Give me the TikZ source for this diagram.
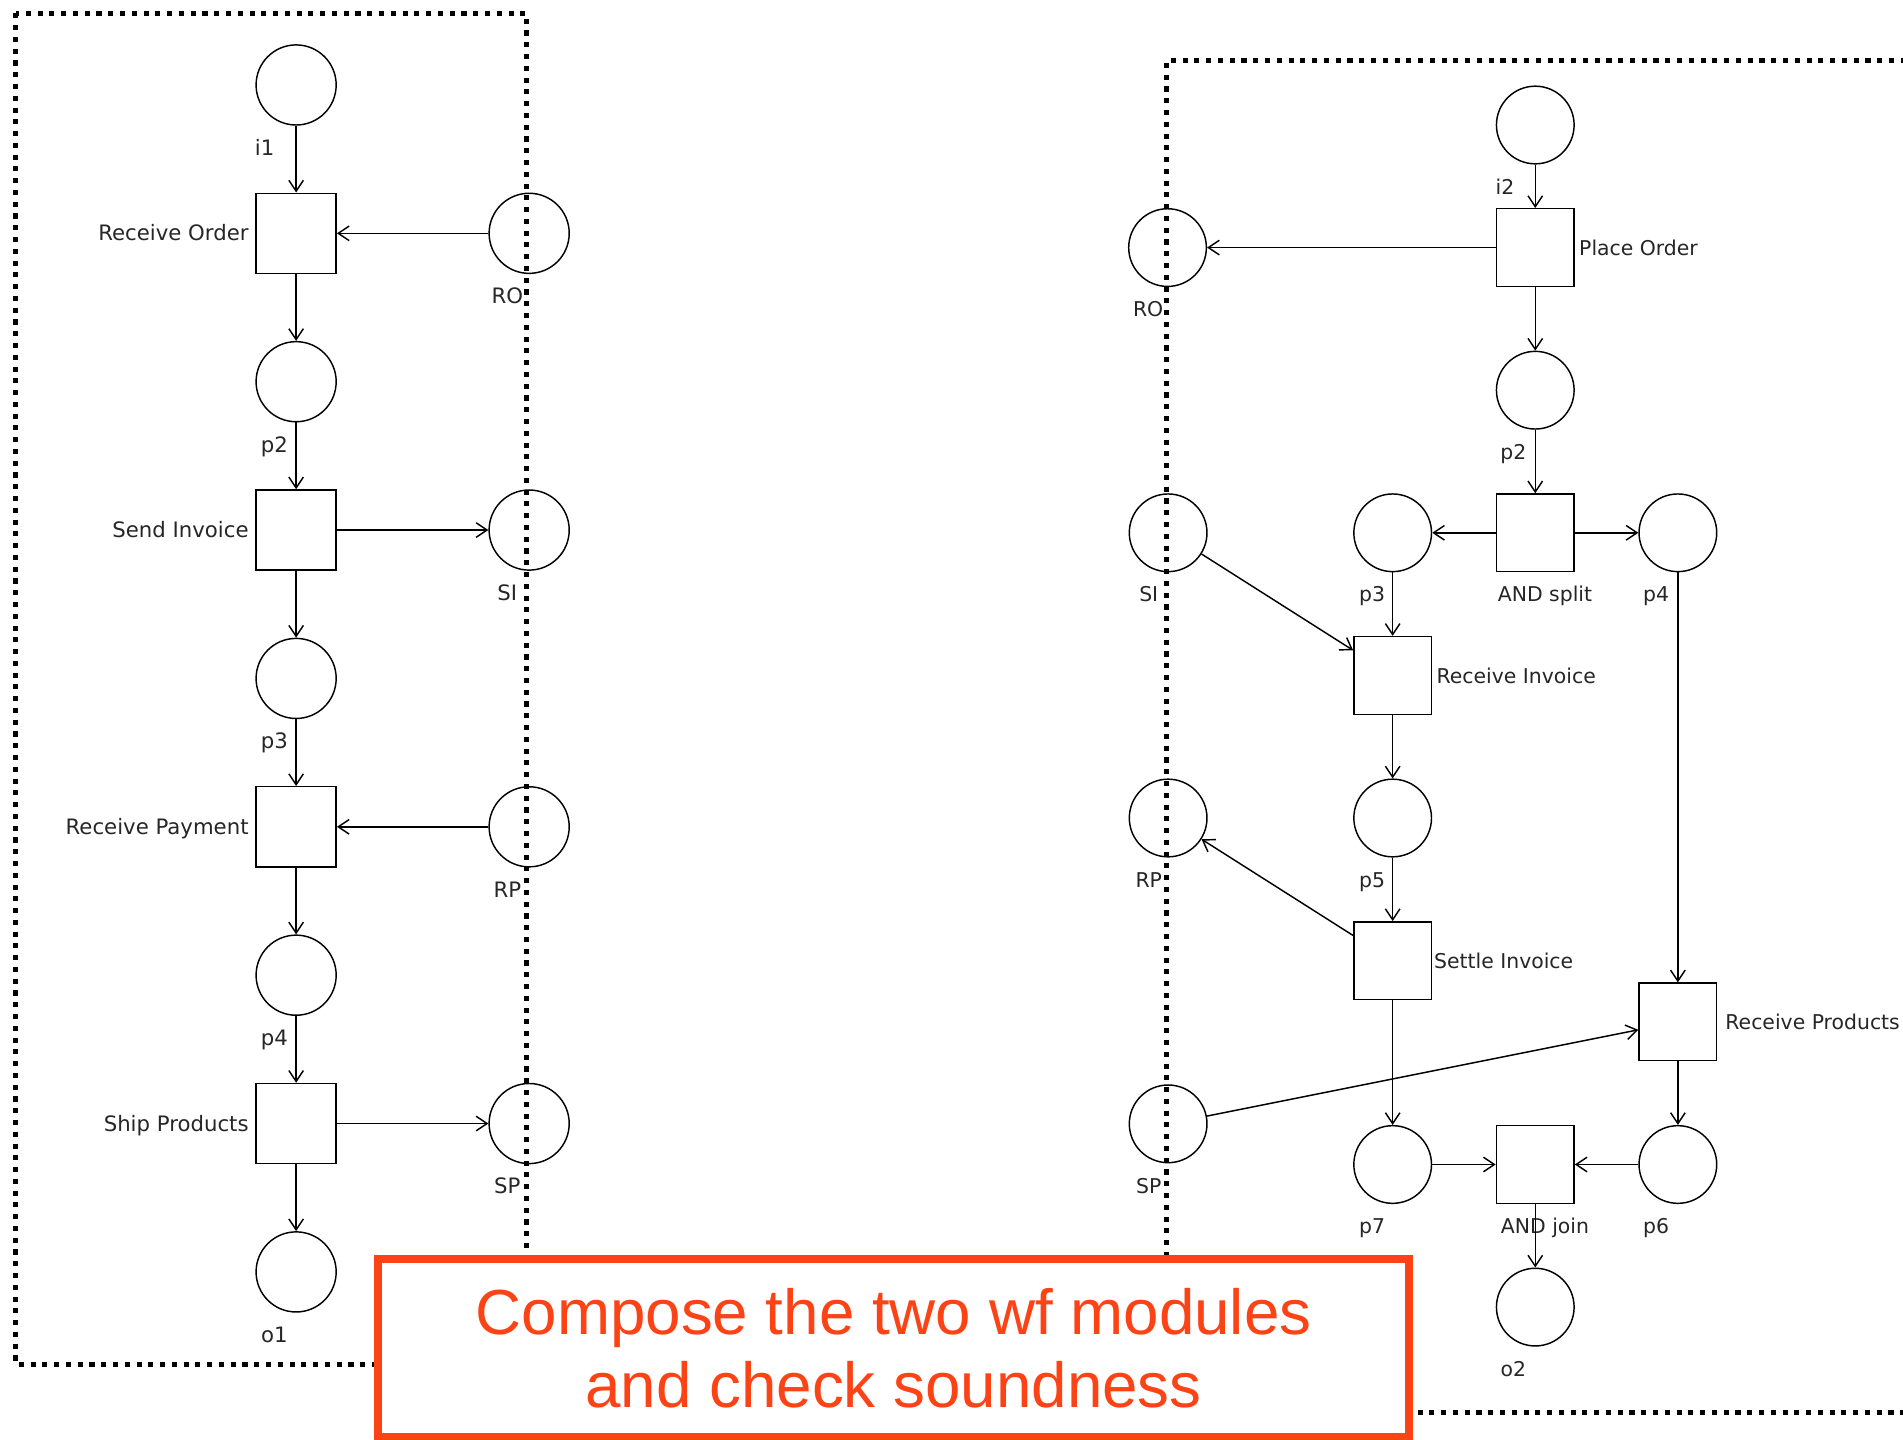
\documentclass[tikz,border=0pt]{standalone}
\usepackage{fontspec}
\setmainfont{DejaVu Sans}
\newfontfamily\notefont{Liberation Sans}
\usetikzlibrary{arrows.meta,positioning}
\definecolor{notered}{RGB}{252,67,22}

\begin{document}
\begin{tikzpicture}[x=1pt,y=1pt,node distance={122.25pt},
    >={Straight Barb[length=9pt,width=12pt]}, line width=1.2pt]
			\tikzstyle{pl}=[circle, draw, minimum size=66pt, inner sep=0pt]
			\tikzstyle{tr}=[rectangle, draw, minimum size=66pt, inner sep=0pt]
			\tikzstyle{lbl}=[inner sep=1pt, text height=12.8pt, text depth=4.2pt, text=black!85, font=\fontsize{17.5}{20}\selectfont]
			\tikzstyle{modbox}=[line width=4.2pt, dash pattern=on 4.2pt off 5.5pt]
			\tikzstyle{note}=[draw=notered, line width=7pt, fill=white, text=notered, align=center, inner sep=0pt]

			\useasboundingbox (0,0) rectangle (1568,-1185.7);

			% first module
			\node[pl, label={[lbl,xshift=-26pt,yshift=-10pt]below:i1}] (i1) at (244,-70) {};
			\node[tr, label={[lbl,xshift=-4pt,yshift=-2pt]left:Receive Order}] (rot) [below of=i1] {};
			\node[pl, label={[lbl,xshift=-18pt,yshift=-10pt]below:p2}] (p2l) [below of=rot] {};
			\node[tr, label={[lbl,xshift=-4pt,yshift=-2pt]left:Send Invoice}] (sit) [below of=p2l] {};
			\node[pl, label={[lbl,xshift=-18pt,yshift=-10pt]below:p3}] (p3l) [below of=sit] {};
			\node[tr, label={[lbl,xshift=-4pt,yshift=-2pt]left:Receive Payment}] (rpt) [below of=p3l] {};
			\node[pl, label={[lbl,xshift=-18pt,yshift=-10pt]below:p4}] (p4l) [below of=rpt] {};
			\node[tr, label={[lbl,xshift=-4pt,yshift=-2pt]left:Ship Products}] (spt) [below of=p4l] {};
			\node[pl, label={[lbl,xshift=-18pt,yshift=-10pt]below:o1}] (o1) [below of=spt] {};
			\node[pl, label={[lbl,xshift=-18pt,yshift=-10pt]below:RO}] (rol) [node distance=192pt, right of=rot] {};
			\node[pl, label={[lbl,xshift=-18pt,yshift=-10pt]below:SI}] (sil) [node distance=192pt, right of=sit] {};
			\node[pl, label={[lbl,xshift=-18pt,yshift=-10pt]below:RP}] (rpl) [node distance=192pt, right of=rpt] {};
			\node[pl, label={[lbl,xshift=-18pt,yshift=-10pt]below:SP}] (spl) [node distance=192pt, right of=spt] {};

			\foreach \from/\to in {i1/rot,rol/rot,rot/p2l,p2l/sit,sit/sil,sit/p3l,p3l/rpt,rpl/rpt,rpt/p4l,p4l/spt,spt/spl,spt/o1}
			\draw [->] (\from) -- (\to);

			% second module
			\begin{scope}[node distance={117.5pt}, pl/.append style={minimum size=64pt}, tr/.append style={minimum size=64pt},
			    lbl/.append style={font=\fontsize{16.8}{20}\selectfont}]
			\node[tr, label={[lbl,xshift=2pt,yshift=-2pt]right:Place Order}] (pot) at (1265,-204) {};
			\node[pl, label={[lbl,xshift=-25pt,yshift=-10pt]below:i2}] (i2) [node distance=101pt, above of=pot] {};
			\node[pl, label={[lbl,xshift=-18pt,yshift=-10pt]below:p2}] (p2r) [below of=pot] {};
			\node[tr, label={[lbl,xshift=8pt,yshift=-10pt]below:AND split}] (ast) [below of=p2r] {};
			\node[pl, label={[lbl,xshift=-17pt,yshift=-10pt]below:p3}] (p3r) [left of=ast] {};
			\node[pl, label={[lbl,xshift=-18pt,yshift=-10pt]below:p4}] (p4r) [right of=ast] {};
			\node[tr, label={[lbl,xshift=2pt,yshift=-2pt]right:Receive Invoice}] (rit) [below of=p3r] {};
			\node[pl, label={[lbl,xshift=-17pt,yshift=-10pt]below:p5}] (p5r) [below of=rit] {};
			\node[tr, label={[lbl,xshift=0pt,yshift=-2pt]right:Settle Invoice}] (stt) [below of=p5r] {};
			\node[tr, label={[lbl,xshift=5pt,yshift=-2pt]right:Receive Products}] (rprt) [node distance=403pt, below of=p4r] {};
			\node[pl, label={[lbl,xshift=-18pt,yshift=-10pt]below:p6}] (p6r) [below of=rprt] {};
			\node[tr, label={[lbl,xshift=8pt,yshift=-10pt]below:AND join}] (ajt) [left of=p6r] {};
			\node[pl, label={[lbl,xshift=-17pt,yshift=-10pt]below:p7}] (p7r) [left of=ajt] {};
			\node[pl, label={[lbl,xshift=-18pt,yshift=-10pt]below:o2}] (o2) [below of=ajt] {};
			\node[pl, label={[lbl,xshift=-16pt,yshift=-10pt]below:RO}] (ror) [node distance=303pt, left of=pot] {};
			\node[pl, label={[lbl,xshift=-16pt,yshift=-10pt]below:SI}] (sir) [node distance=185pt, left of=p3r] {};
			\node[pl, label={[lbl,xshift=-16pt,yshift=-10pt]below:RP}] (rpr) [node distance=185pt, left of=p5r] {};
			\node[pl, label={[lbl,xshift=-16pt,yshift=-10pt]below:SP}] (spr) [node distance=252pt, below of=rpr] {};
			\end{scope}

			\foreach \from/\to in {i2/pot,pot/ror,pot/p2r,p2r/ast,ast/p3r,ast/p4r,sir/rit,p3r/rit,rit/p5r,p5r/stt,stt/rpr,stt/p7r,p4r/rprt,spr/rprt,rprt/p6r,p7r/ajt,p6r/ajt,ajt/o2}
			\draw [->] (\from) -- (\to);

			% module borders
			\draw[modbox] (13,-11) rectangle (434,-1124);
			\draw[modbox] (1580,-50) -- (961,-50) -- (961,-1164) -- (1580,-1164);

			\node[note, minimum width=849.5pt, minimum height=146.5pt, font=\notefont\fontsize{52.5}{60}\selectfont] (task) at (736.25,-1110.75) {Compose the two wf modules\\and check soundness};
		\end{tikzpicture}
\end{document}
